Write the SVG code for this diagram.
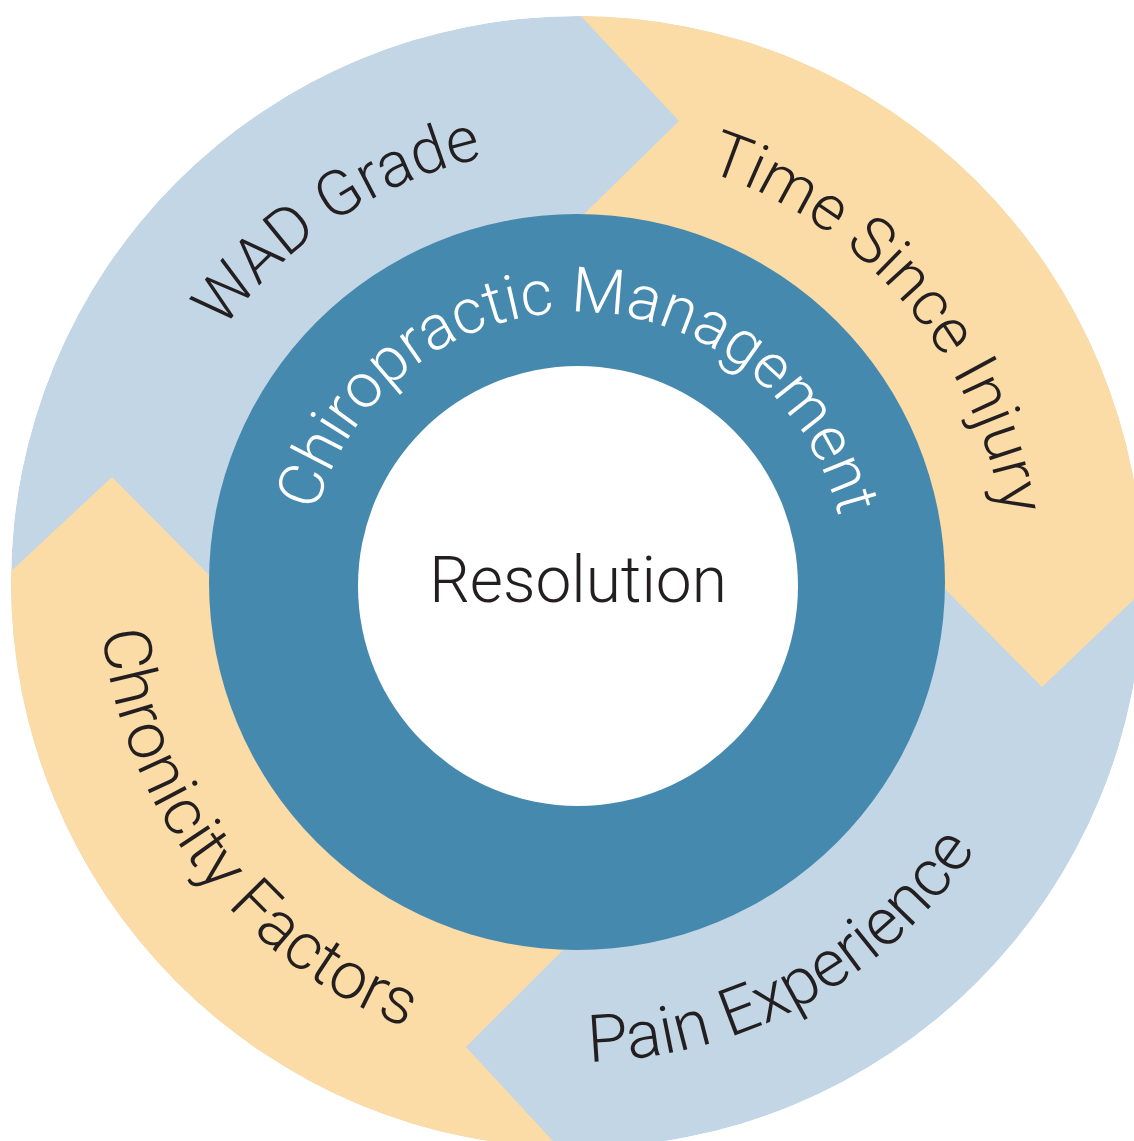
<svg xmlns="http://www.w3.org/2000/svg" width="1134" height="1141" viewBox="0 0 1134 1141">
  <style>
    .blue { fill: #C3D6E5; }
    .orange { fill: #FBDBA6; }
    .dark { fill: #4689AE; }
    .hole { fill: #FFFFFF; }
    .lbl { font-family: Roboto, "Liberation Sans", Arial, sans-serif; font-weight: 300; fill: #231F20; }
    .top { font-size: 63.5px; }
    .bottom { font-size: 66px; }
    .mid { font-size: 62.5px; fill: #FFFFFF; }
  </style>
  <defs>
    <clipPath id="outerClip">
      <circle cx="577" cy="582" r="566"/>
    </clipPath>
    <path id="pWAD" d="M 213.4,822.6 A 436 436 0 0 1 940.6,341.4"/>
    <path id="pTime" d="M 292.7,251.5 A 436 436 0 0 1 861.3,912.5"/>
    <path id="pChiro" d="M 307,579.6 A 270 270 0 0 1 847,584.4"/>
    <path id="pChron" d="M 284.8,201.2 A 480 480 0 0 0 869.2,962.8"/>
    <path id="pPain" d="M 156.4,813.3 A 480 480 0 0 0 997.6,350.7"/>
  </defs>

  <g id="outer-ring" clip-path="url(#outerClip)">
    <circle class="blue" cx="577" cy="582" r="566"/>
    <polygon id="seg-time" class="orange" points="577,582 479,317 679,121 549,-18 1250,-18 1250,544 1192,544 1042,687 842,485"/>
    <polygon id="seg-chronicity" class="orange" points="577,582 666,847 466,1047 576,1166 -100,1166 -100,617 -38,617 112,477 312,679"/>
  </g>

  <g id="chiropractic-management">
    <circle class="dark" cx="577" cy="582" r="368"/>
    <text class="lbl mid"><textPath href="#pChiro" startOffset="50%" text-anchor="middle">Chiropractic Management</textPath></text>
  </g>

  <g id="resolution">
    <circle class="hole" cx="578" cy="586" r="220"/>
    <text class="lbl" x="578" y="602" font-size="64" text-anchor="middle">Resolution</text>
  </g>

  <g id="wad-grade">
    <text class="lbl top"><textPath href="#pWAD" startOffset="50%" text-anchor="middle">WAD Grade</textPath></text>
  </g>
  <g id="time-since-injury">
    <text class="lbl top"><textPath href="#pTime" startOffset="50%" text-anchor="middle">Time Since Injury</textPath></text>
  </g>
  <g id="pain-experience">
    <text class="lbl bottom"><textPath href="#pPain" startOffset="50%" text-anchor="middle">Pain Experience</textPath></text>
  </g>
  <g id="chronicity-factors">
    <text class="lbl bottom"><textPath href="#pChron" startOffset="50%" text-anchor="middle">Chronicity Factors</textPath></text>
  </g>
</svg>
